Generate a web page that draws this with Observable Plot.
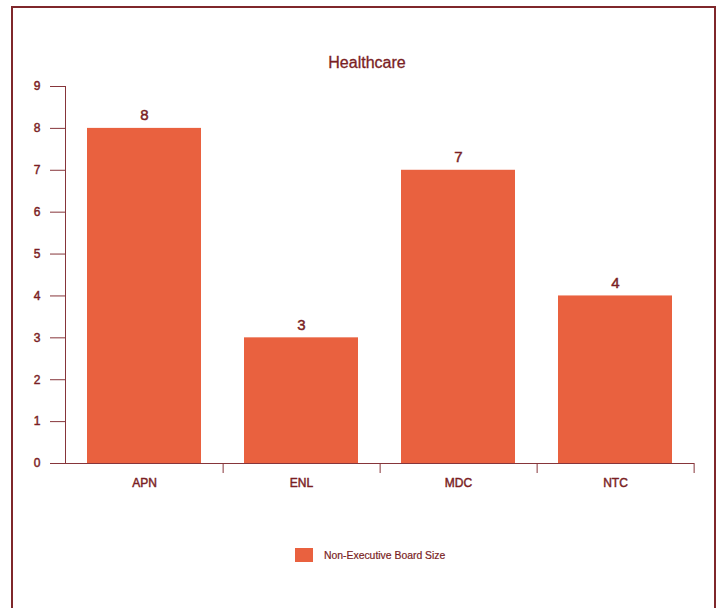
<!DOCTYPE html>
<html>
<head>
<meta charset="utf-8">
<script src="https://cdn.jsdelivr.net/npm/d3@7"></script>
<script src="https://cdn.jsdelivr.net/npm/@observablehq/plot@0.6"></script>
<style>
  html, body { margin: 0; padding: 0; background: #fff; }
  body { width: 724px; height: 608px; position: relative; overflow: hidden; font-family: "Liberation Sans", Arial, sans-serif; }
  #panel { position: absolute; left: 11px; top: 6px; width: 701px; height: 640px; border: 2px solid #7f272b; border-bottom: none; }
  #chart { position: absolute; left: 0; top: 0; }
  #title { position: absolute; left: 0; width: 734px; top: 54px; text-align: center; font-size: 16px; color: #7a1e24; -webkit-text-stroke: 0.3px #7a1e24; }
  #legend { position: absolute; left: 295px; top: 548px; display: flex; align-items: center; font-size: 10.4px; color: #7a1e24; -webkit-text-stroke: 0.2px #7a1e24; }
  #legend .sw { width: 18px; height: 14px; background: #e9613f; margin-right: 11px; }
  #chart svg text { stroke: #7a1e24; stroke-width: 0.45px; }
</style>
</head>
<body>
<div id="panel"></div>
<div id="chart"></div>
<div id="title">Healthcare</div>
<div id="legend"><span class="sw"></span><span>Non-Executive Board Size</span></div>
<script>
// Non-executive board size per healthcare company
const companies = ["APN", "ENL", "MDC", "NTC"];
const boardSize = [8, 3, 7, 4];
const yTicks = [0, 1, 2, 3, 4, 5, 6, 7, 8, 9];
const seriesName = "Non-Executive Board Size";

const data = companies.map((c, i) => ({company: c, size: boardSize[i], series: seriesName}));

const ink = "#7a1e24";
const line = "#86353a";
const barColor = "#e9613f";

const W = 724, H = 500, mL = 65, mR = 30, mT = 86, mB = 37;
const step = (W - mL - mR) / companies.length;

const chart = Plot.plot({
  width: W,
  height: H,
  marginLeft: mL,
  marginRight: mR,
  marginTop: mT,
  marginBottom: mB,
  style: {fontFamily: "'Liberation Sans', Arial, sans-serif", color: ink, background: "transparent"},
  x: {domain: companies, paddingInner: 0.275, paddingOuter: 0.1375, label: null},
  y: {domain: [0, 9], label: null},
  marks: [
    Plot.barY(data, {x: "company", y: "size", fill: barColor}),
    Plot.text(data, {x: "company", y: "size", text: d => String(d.size), lineAnchor: "bottom", dy: -8, fontSize: 15, fill: ink}),
    Plot.frame({anchor: "left", stroke: line}),
    Plot.ruleY([0], {stroke: line}),
    Plot.axisY({ticks: yTicks, tickSize: 15, tickPadding: 10, fontSize: 12, stroke: line, fill: ink, label: null}),
    Plot.axisX({tickSize: 0, tickPadding: 15, fontSize: 12, fill: ink, label: null}),
    Plot.axisX({tickSize: 10, tickFormat: () => "", dx: step / 2, stroke: line, label: null})
  ]
});

document.getElementById("chart").appendChild(chart);
</script>
</body>
</html>
